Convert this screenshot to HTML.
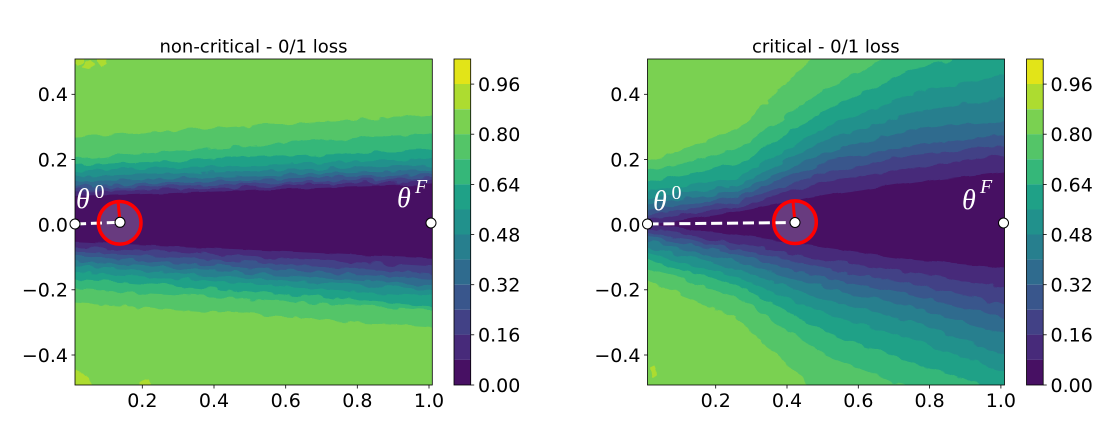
<!DOCTYPE html>
<html>
<head>
<meta charset="utf-8">
<style>
  html, body { margin: 0; padding: 0; background: #ffffff; }
  svg { display: block; }
  .tick { font-family: "DejaVu Sans", "Liberation Sans", sans-serif; font-size: 19px; fill: #000; }
  .title { font-family: "DejaVu Sans", "Liberation Sans", sans-serif; font-size: 18px; fill: #000; }
  .th { font-family: "Liberation Serif", "DejaVu Serif", serif; font-style: italic; fill: #fff; }
  .sup { font-family: "Liberation Serif", "DejaVu Serif", serif; fill: #fff; }
</style>
</head>
<body>
<svg width="1120" height="448" viewBox="0 0 1120 448" xmlns="http://www.w3.org/2000/svg">
  <defs>
    <clipPath id="clipL"><rect x="75" y="59" width="357.3" height="326"/></clipPath>
    <clipPath id="clipR"><rect x="647.5" y="59" width="357" height="326"/></clipPath>
    <filter id="jag" x="0" y="0" width="1120" height="448" filterUnits="userSpaceOnUse" color-interpolation-filters="sRGB">
      <feTurbulence type="fractalNoise" baseFrequency="0.07 0.11" numOctaves="2" seed="3" result="n"/>
      <feDisplacementMap in="SourceGraphic" in2="n" scale="8" xChannelSelector="R" yChannelSelector="G"/>
    </filter>
    <filter id="jag2" x="0" y="0" width="1120" height="448" filterUnits="userSpaceOnUse" color-interpolation-filters="sRGB">
      <feTurbulence type="fractalNoise" baseFrequency="0.05 0.09" numOctaves="2" seed="7" result="n"/>
      <feDisplacementMap in="SourceGraphic" in2="n" scale="4" xChannelSelector="R" yChannelSelector="G"/>
    </filter>
  </defs>

  <rect x="0" y="0" width="1120" height="448" fill="#ffffff"/>

  <!-- ================= LEFT PLOT ================= -->
  <text class="title" x="253.5" y="52.7" text-anchor="middle">non-critical - 0/1 loss</text>
  <g clip-path="url(#clipL)">
    <g filter="url(#jag)">
      <rect x="50" y="40" width="410" height="360" fill="#7ad151"/>
      <polygon fill="#addc30" points="74,56 82,56 84,63 78,66 74,64"/>
      <polygon fill="#addc30" points="85,62 91,60 94,65 89,69 84,67"/>
      <polygon fill="#addc30" points="97,56 108,56 107,64 101,67 97,62"/>
      <polygon fill="#addc30" points="74,370 82,372 90,378 93,388 74,388"/>
      <polygon fill="#addc30" points="140,381 150,380 152,388 140,388"/>
      <polygon fill="#54c568" points="60,137.5 447,114 447,328 60,302"/>
      <polygon fill="#35b779" points="60,159 447,132 447,311 60,288"/>
      <polygon fill="#1fa187" points="60,165.6 447,149.4 447,307 60,277.5"/>
      <polygon fill="#21918c" points="60,172 447,158 447,297.8 60,270.5"/>
      <polygon fill="#277f8e" points="60,177 447,164.5 447,291 60,265.5"/>
      <polygon fill="#2f6b8e" points="60,182 447,169.5 447,286 60,260.5"/>
      <polygon fill="#39568c" points="60,186.5 447,173.5 447,280.3 60,255.5"/>
      <polygon fill="#424186" points="60,190 447,177 447,274.3 60,250.5"/>
      <polygon fill="#472a7a" points="60,193 447,180 447,267.5 60,245.5"/>
    </g>
    <g filter="url(#jag2)">
      <polygon fill="#471063" points="60,197 447,183.5 447,259 60,241"/>
    </g>
  </g>
  <rect x="75" y="59" width="357.3" height="326" fill="none" stroke="#000" stroke-width="0.8"/>

  <g stroke="#000" stroke-width="0.8">
    <line x1="71.5" y1="94.3" x2="75" y2="94.3"/>
    <line x1="71.5" y1="159.5" x2="75" y2="159.5"/>
    <line x1="71.5" y1="224.6" x2="75" y2="224.6"/>
    <line x1="71.5" y1="289.8" x2="75" y2="289.8"/>
    <line x1="71.5" y1="355" x2="75" y2="355"/>
    <line x1="142.3" y1="385" x2="142.3" y2="388.5"/>
    <line x1="214" y1="385" x2="214" y2="388.5"/>
    <line x1="285.7" y1="385" x2="285.7" y2="388.5"/>
    <line x1="357.3" y1="385" x2="357.3" y2="388.5"/>
    <line x1="429" y1="385" x2="429" y2="388.5"/>
  </g>
  <g class="tick" text-anchor="end">
    <text x="68" y="101.2">0.4</text>
    <text x="68" y="166.4">0.2</text>
    <text x="68" y="231.5">0.0</text>
    <text x="68" y="296.7">−0.2</text>
    <text x="68" y="361.9">−0.4</text>
  </g>
  <g class="tick" text-anchor="middle">
    <text x="142.3" y="406.8">0.2</text>
    <text x="214" y="406.8">0.4</text>
    <text x="285.7" y="406.8">0.6</text>
    <text x="357.3" y="406.8">0.8</text>
    <text x="429" y="406.8">1.0</text>
  </g>

  <line x1="75" y1="224" x2="120" y2="222.3" stroke="#fff" stroke-width="3" stroke-dasharray="11.1 4.8"/>
  <circle cx="119.7" cy="222.8" r="21.3" fill="#ffffff" fill-opacity="0.18" stroke="#ff0000" stroke-width="3.5"/>
  <line x1="120" y1="222.3" x2="118" y2="201" stroke="#ff0000" stroke-width="3"/>
  <circle cx="75" cy="224" r="5" fill="#fff" stroke="#000" stroke-width="1"/>
  <circle cx="120" cy="222.3" r="5" fill="#fff" stroke="#000" stroke-width="1"/>
  <circle cx="431" cy="223" r="5" fill="#fff" stroke="#000" stroke-width="1"/>
  <text class="th" x="76" y="208" font-size="28">θ</text>
  <text class="sup" x="94.5" y="198" font-size="20">0</text>
  <text class="th" x="397" y="207" font-size="28">θ</text>
  <text class="th" x="415" y="193" font-size="20">F</text>

  <g>
    <rect x="454" y="59" width="16.7" height="25.1" fill="#e2e418"/>
    <rect x="454" y="84" width="16.7" height="25.1" fill="#addc30"/>
    <rect x="454" y="109.2" width="16.7" height="25.1" fill="#7ad151"/>
    <rect x="454" y="134.2" width="16.7" height="25.1" fill="#54c568"/>
    <rect x="454" y="159.3" width="16.7" height="25.1" fill="#35b779"/>
    <rect x="454" y="184.4" width="16.7" height="25.1" fill="#1fa187"/>
    <rect x="454" y="209.5" width="16.7" height="25.1" fill="#21918c"/>
    <rect x="454" y="234.5" width="16.7" height="25.1" fill="#277f8e"/>
    <rect x="454" y="259.6" width="16.7" height="25.1" fill="#2f6b8e"/>
    <rect x="454" y="284.7" width="16.7" height="25.1" fill="#39568c"/>
    <rect x="454" y="309.8" width="16.7" height="25.1" fill="#424186"/>
    <rect x="454" y="334.8" width="16.7" height="25.1" fill="#472a7a"/>
    <rect x="454" y="359.9" width="16.7" height="25.1" fill="#471063"/>
    <rect x="454" y="59" width="16.7" height="326" fill="none" stroke="#000" stroke-width="0.8"/>
  </g>
  <g stroke="#000" stroke-width="0.8">
    <line x1="470.7" y1="84.1" x2="474.2" y2="84.1"/>
    <line x1="470.7" y1="134.2" x2="474.2" y2="134.2"/>
    <line x1="470.7" y1="184.4" x2="474.2" y2="184.4"/>
    <line x1="470.7" y1="234.5" x2="474.2" y2="234.5"/>
    <line x1="470.7" y1="284.7" x2="474.2" y2="284.7"/>
    <line x1="470.7" y1="334.8" x2="474.2" y2="334.8"/>
    <line x1="470.7" y1="385" x2="474.2" y2="385"/>
  </g>
  <g class="tick">
    <text x="478" y="91">0.96</text>
    <text x="478" y="141.1">0.80</text>
    <text x="478" y="191.3">0.64</text>
    <text x="478" y="241.4">0.48</text>
    <text x="478" y="291.6">0.32</text>
    <text x="478" y="341.7">0.16</text>
    <text x="478" y="391.9">0.00</text>
  </g>

  <!-- ================= RIGHT PLOT ================= -->
  <text class="title" x="825.8" y="52.7" text-anchor="middle">critical - 0/1 loss</text>
  <g clip-path="url(#clipR)">
    <g filter="url(#jag)">
      <rect x="620" y="40" width="410" height="360" fill="#7ad151"/>
      <polygon fill="#addc30" points="651,368 655,366 657,374 653,378"/>
      <polygon fill="#54c568" points="630,162 647.5,162 736.75,130 826,45 915.25,0 1004.5,-30 1020,-30 1020,470 1004.5,470 915.25,440 826,400 736.75,318 647.5,280 630,280"/>
      <polygon fill="#35b779" points="630,172 647.5,172 736.75,150 826,88 915.25,45 1004.5,20 1020,20 1020,420 1004.5,420 915.25,390 826,355 736.75,297 647.5,268 630,268"/>
      <polygon fill="#1fa187" points="630,182 647.5,182 736.75,165 826,110 915.25,68 1004.5,50 1020,50 1020,392 1004.5,392 915.25,363 826,332 736.75,285 647.5,260 630,260"/>
      <polygon fill="#21918c" points="630,191 647.5,191 736.75,178 826,127 915.25,92 1004.5,75 1020,75 1020,372 1004.5,372 915.25,340 826,314 736.75,277 647.5,253 630,253"/>
      <polygon fill="#277f8e" points="630,198 647.5,198 736.75,186 826,140 915.25,112 1004.5,98 1020,98 1020,355 1004.5,355 915.25,323 826,300 736.75,269 647.5,247 630,247"/>
      <polygon fill="#2f6b8e" points="630,204 647.5,204 736.75,192 826,152 915.25,128 1004.5,120 1020,120 1020,335 1004.5,335 915.25,308 826,288 736.75,262 647.5,241 630,241"/>
      <polygon fill="#39568c" points="630,210 647.5,210 736.75,197 826,162 915.25,145 1004.5,135 1020,135 1020,318 1004.5,318 915.25,295 826,278 736.75,255 647.5,236 630,236"/>
      <polygon fill="#424186" points="630,215 647.5,215 736.75,202 826,172 915.25,155 1004.5,145 1020,145 1020,305 1004.5,305 915.25,285 826,269 736.75,249 647.5,232 630,232"/>
      <polygon fill="#472a7a" points="630,219 647.5,219 736.75,207 826,182 915.25,168 1004.5,155 1020,155 1020,288 1004.5,288 915.25,273 826,260 736.75,243 647.5,229 630,229"/>
    </g>
    <g filter="url(#jag2)">
      <polygon fill="#471063" points="655,224 736.75,212 826,195 915.25,182 1004.5,172 1020,172 1020,268 1004.5,268 915.25,260 826,248 736.75,235 655,225"/>
    </g>
  </g>
  <rect x="647.5" y="59" width="357" height="326" fill="none" stroke="#000" stroke-width="0.8"/>

  <g stroke="#000" stroke-width="0.8">
    <line x1="644" y1="94.3" x2="647.5" y2="94.3"/>
    <line x1="644" y1="159.5" x2="647.5" y2="159.5"/>
    <line x1="644" y1="224.6" x2="647.5" y2="224.6"/>
    <line x1="644" y1="289.8" x2="647.5" y2="289.8"/>
    <line x1="644" y1="355" x2="647.5" y2="355"/>
    <line x1="715.7" y1="385" x2="715.7" y2="388.5"/>
    <line x1="787" y1="385" x2="787" y2="388.5"/>
    <line x1="858.3" y1="385" x2="858.3" y2="388.5"/>
    <line x1="929.6" y1="385" x2="929.6" y2="388.5"/>
    <line x1="1000.9" y1="385" x2="1000.9" y2="388.5"/>
  </g>
  <g class="tick" text-anchor="end">
    <text x="640.5" y="101.2">0.4</text>
    <text x="640.5" y="166.4">0.2</text>
    <text x="640.5" y="231.5">0.0</text>
    <text x="640.5" y="296.7">−0.2</text>
    <text x="640.5" y="361.9">−0.4</text>
  </g>
  <g class="tick" text-anchor="middle">
    <text x="715.7" y="406.8">0.2</text>
    <text x="787" y="406.8">0.4</text>
    <text x="858.3" y="406.8">0.6</text>
    <text x="929.6" y="406.8">0.8</text>
    <text x="1000.9" y="406.8">1.0</text>
  </g>

  <line x1="647.5" y1="224" x2="795" y2="222.5" stroke="#fff" stroke-width="3" stroke-dasharray="11.1 4.8"/>
  <circle cx="795" cy="222.2" r="21.3" fill="#ffffff" fill-opacity="0.18" stroke="#ff0000" stroke-width="3.5"/>
  <line x1="795" y1="222.5" x2="793" y2="201.5" stroke="#ff0000" stroke-width="3"/>
  <circle cx="647.5" cy="224" r="5" fill="#fff" stroke="#000" stroke-width="1"/>
  <circle cx="795" cy="222.5" r="5" fill="#fff" stroke="#000" stroke-width="1"/>
  <circle cx="1003.5" cy="223" r="5" fill="#fff" stroke="#000" stroke-width="1"/>
  <text class="th" x="653" y="210" font-size="28">θ</text>
  <text class="sup" x="671.5" y="199" font-size="20">0</text>
  <text class="th" x="962" y="209" font-size="28">θ</text>
  <text class="th" x="980" y="193" font-size="20">F</text>

  <g>
    <rect x="1026.5" y="59" width="16.7" height="25.1" fill="#e2e418"/>
    <rect x="1026.5" y="84" width="16.7" height="25.1" fill="#addc30"/>
    <rect x="1026.5" y="109.2" width="16.7" height="25.1" fill="#7ad151"/>
    <rect x="1026.5" y="134.2" width="16.7" height="25.1" fill="#54c568"/>
    <rect x="1026.5" y="159.3" width="16.7" height="25.1" fill="#35b779"/>
    <rect x="1026.5" y="184.4" width="16.7" height="25.1" fill="#1fa187"/>
    <rect x="1026.5" y="209.5" width="16.7" height="25.1" fill="#21918c"/>
    <rect x="1026.5" y="234.5" width="16.7" height="25.1" fill="#277f8e"/>
    <rect x="1026.5" y="259.6" width="16.7" height="25.1" fill="#2f6b8e"/>
    <rect x="1026.5" y="284.7" width="16.7" height="25.1" fill="#39568c"/>
    <rect x="1026.5" y="309.8" width="16.7" height="25.1" fill="#424186"/>
    <rect x="1026.5" y="334.8" width="16.7" height="25.1" fill="#472a7a"/>
    <rect x="1026.5" y="359.9" width="16.7" height="25.1" fill="#471063"/>
    <rect x="1026.5" y="59" width="16.7" height="326" fill="none" stroke="#000" stroke-width="0.8"/>
  </g>
  <g stroke="#000" stroke-width="0.8">
    <line x1="1043.2" y1="84.1" x2="1046.7" y2="84.1"/>
    <line x1="1043.2" y1="134.2" x2="1046.7" y2="134.2"/>
    <line x1="1043.2" y1="184.4" x2="1046.7" y2="184.4"/>
    <line x1="1043.2" y1="234.5" x2="1046.7" y2="234.5"/>
    <line x1="1043.2" y1="284.7" x2="1046.7" y2="284.7"/>
    <line x1="1043.2" y1="334.8" x2="1046.7" y2="334.8"/>
    <line x1="1043.2" y1="385" x2="1046.7" y2="385"/>
  </g>
  <g class="tick">
    <text x="1050.5" y="91">0.96</text>
    <text x="1050.5" y="141.1">0.80</text>
    <text x="1050.5" y="191.3">0.64</text>
    <text x="1050.5" y="241.4">0.48</text>
    <text x="1050.5" y="291.6">0.32</text>
    <text x="1050.5" y="341.7">0.16</text>
    <text x="1050.5" y="391.9">0.00</text>
  </g>
</svg>
</body>
</html>
